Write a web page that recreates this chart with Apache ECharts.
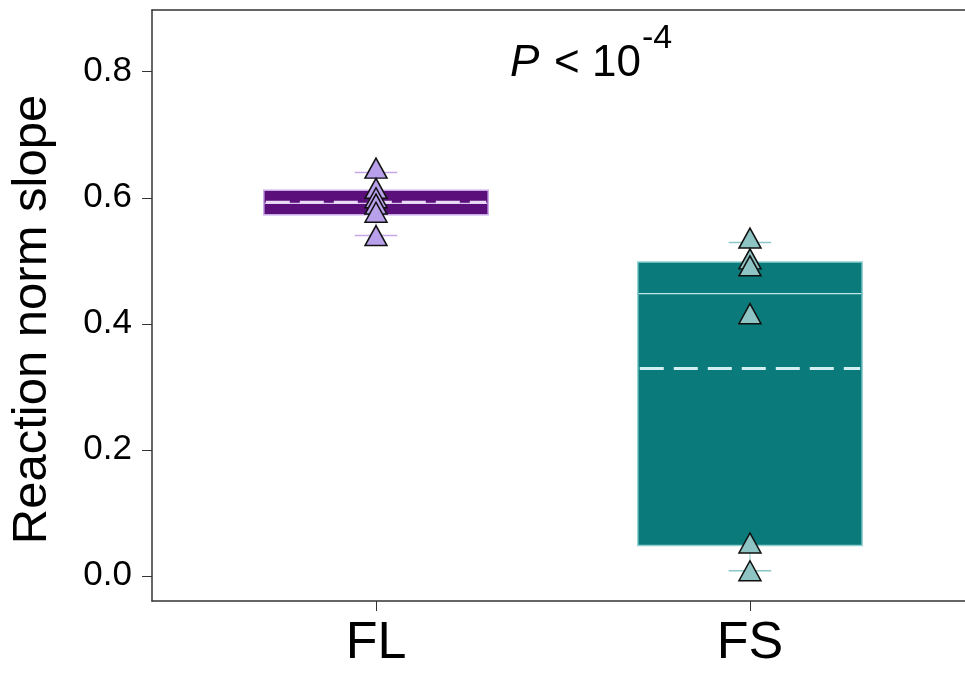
<!DOCTYPE html>
<html>
<head>
<meta charset="utf-8">
<script src="https://cdn.jsdelivr.net/npm/echarts@6/dist/echarts.min.js"></script>
<style>
  html, body { margin: 0; padding: 0; background: #fff; }
  #chart { width: 965px; height: 673px; }
</style>
</head>
<body>
<div id="chart"></div>
<script>
// Groups on the x axis
var categories = ['FL', 'FS'];

// Individual reaction norm slopes per group
var flPoints = [0.647, 0.615, 0.600, 0.590, 0.577, 0.540];
var fsPoints = [0.536, 0.503, 0.492, 0.416, 0.052, 0.008];

// Box summaries: [q1, q3, median, mean, whisker low, whisker high]
var flBox = [0.573, 0.612, 0.591, 0.593, 0.540, 0.640];
var fsBox = [0.048, 0.498, 0.448, 0.329, 0.008, 0.529];

// Y tick labels
var yTicks = [0.0, 0.2, 0.4, 0.6, 0.8];

var FONT = "'Liberation Sans', Arial, sans-serif";

var groupStyles = [
  { fill: '#5b0f7a', edge: '#c9aae9', median: '#d9c3ee', mean: '#e9dbf6', cap: '#c6a8e6', marker: '#b9a0eb' },
  { fill: '#0b7a7a', edge: '#8fd0d0', median: '#bfe8e8', mean: '#d4efef', cap: '#8cc6c6', marker: '#8fc4c4' }
];

var boxes = [flBox, fsBox];
var boxData = boxes.map(function (b, i) {
  return [i + 1].concat(b);
});

var halfBox = 0.3;     // box half width in x units
var halfCap = 0.057;   // whisker cap half width in x units

function renderBox(params, api) {
  var i = params.dataIndex;
  var st = groupStyles[i];
  var x = api.value(0);
  var q1 = api.value(1), q3 = api.value(2), med = api.value(3), mean = api.value(4);
  var wlo = api.value(5), whi = api.value(6);
  var tl = api.coord([x - halfBox, q3]);
  var br = api.coord([x + halfBox, q1]);
  var ml = api.coord([x - halfBox, med]);
  var mr = api.coord([x + halfBox, med]);
  var al = api.coord([x - halfBox, mean]);
  var ar = api.coord([x + halfBox, mean]);
  var c = api.coord([x, 0]);
  var pLo = api.coord([x, wlo]);
  var pHi = api.coord([x, whi]);
  var cl = api.coord([x - halfCap, 0])[0];
  var cr = api.coord([x + halfCap, 0])[0];
  return {
    type: 'group',
    children: [
      { type: 'line', shape: { x1: c[0], y1: br[1], x2: c[0], y2: pLo[1] }, style: { stroke: st.cap, lineWidth: 1 } },
      { type: 'line', shape: { x1: c[0], y1: tl[1], x2: c[0], y2: pHi[1] }, style: { stroke: st.cap, lineWidth: 1 } },
      { type: 'line', shape: { x1: cl, y1: pLo[1], x2: cr, y2: pLo[1] }, style: { stroke: st.cap, lineWidth: 1.5 } },
      { type: 'line', shape: { x1: cl, y1: pHi[1], x2: cr, y2: pHi[1] }, style: { stroke: st.cap, lineWidth: 1.5 } },
      { type: 'rect', shape: { x: tl[0], y: tl[1], width: br[0] - tl[0], height: br[1] - tl[1] },
        style: { fill: st.fill, stroke: st.edge, lineWidth: 1.5 } },
      { type: 'line', shape: { x1: ml[0] + 1, y1: ml[1], x2: mr[0] - 1, y2: mr[1] }, style: { stroke: st.median, lineWidth: 1.2 } },
      { type: 'line', shape: { x1: al[0] + 2, y1: al[1], x2: ar[0] - 2, y2: ar[1] },
        style: { stroke: st.mean, lineWidth: 3, lineDash: [24, 10] } }
    ]
  };
}

var chart = echarts.init(document.getElementById('chart'));

var option = {
  animation: false,
  backgroundColor: '#ffffff',
  grid: { left: 152, right: 0, top: 10, bottom: 72 },
  xAxis: [
    {
      type: 'value', position: 'bottom', min: 0.401, max: 2.575,
      splitLine: { show: false },
      axisLine: { show: true, onZero: false, lineStyle: { color: '#333', width: 1.5 } },
      axisTick: { show: true, customValues: [1, 2], length: 10, lineStyle: { color: '#333', width: 1 } },
      axisLabel: {
        customValues: [1, 2], margin: 17,
        formatter: function (v) { return categories[Math.round(v) - 1] || ''; },
        fontFamily: "'Liberation Sans Narrow', 'Liberation Sans', Arial, sans-serif",
        fontSize: 52, color: '#000'
      }
    },
    {
      type: 'value', position: 'top', min: 0.401, max: 2.575,
      splitLine: { show: false },
      axisLine: { show: true, onZero: false, lineStyle: { color: '#333', width: 1.5 } },
      axisTick: { show: false }, axisLabel: { show: false }
    }
  ],
  yAxis: {
    type: 'value', min: -0.04, max: 0.898,
    name: 'Reaction norm slope', nameLocation: 'middle', nameGap: 95,
    nameTextStyle: { fontFamily: FONT, fontSize: 49, color: '#000', padding: [0, 28, 0, 0] },
    splitLine: { show: false },
    axisLine: { show: true, onZero: false, lineStyle: { color: '#333', width: 1.5 } },
    axisTick: { show: true, customValues: yTicks, length: 10, lineStyle: { color: '#333', width: 1 } },
    axisLabel: {
      customValues: yTicks, margin: 20,
      formatter: function (v) { return v.toFixed(1); },
      fontFamily: FONT, fontSize: 35, color: '#000'
    }
  },
  graphic: [
    { type: 'text', left: 510, top: 42, style: { text: 'P', font: "italic 44px 'Liberation Sans', Arial", fill: '#000' } },
    { type: 'text', left: 554, top: 42, style: { text: '< 10', font: "44px 'Liberation Sans', Arial", fill: '#000' } },
    { type: 'text', left: 642, top: 22, style: { text: '-4', font: "34px 'Liberation Sans', Arial", fill: '#000' } }
  ],
  series: [
    {
      type: 'custom', renderItem: renderBox, xAxisIndex: 0,
      encode: { x: 0, y: [1, 2, 3, 4, 5, 6] },
      data: boxData, z: 2
    },
    {
      type: 'scatter', xAxisIndex: 0, symbol: 'triangle', symbolSize: [22, 20], z: 5,
      itemStyle: { color: groupStyles[0].marker, borderColor: '#111', borderWidth: 1.5, opacity: 1 },
      data: flPoints.map(function (v) { return [1, v]; })
    },
    {
      type: 'scatter', xAxisIndex: 0, symbol: 'triangle', symbolSize: [22, 20], z: 5,
      itemStyle: { color: groupStyles[1].marker, borderColor: '#111', borderWidth: 1.5, opacity: 1 },
      data: fsPoints.map(function (v) { return [2, v]; })
    }
  ]
};

chart.setOption(option);
</script>
</body>
</html>
